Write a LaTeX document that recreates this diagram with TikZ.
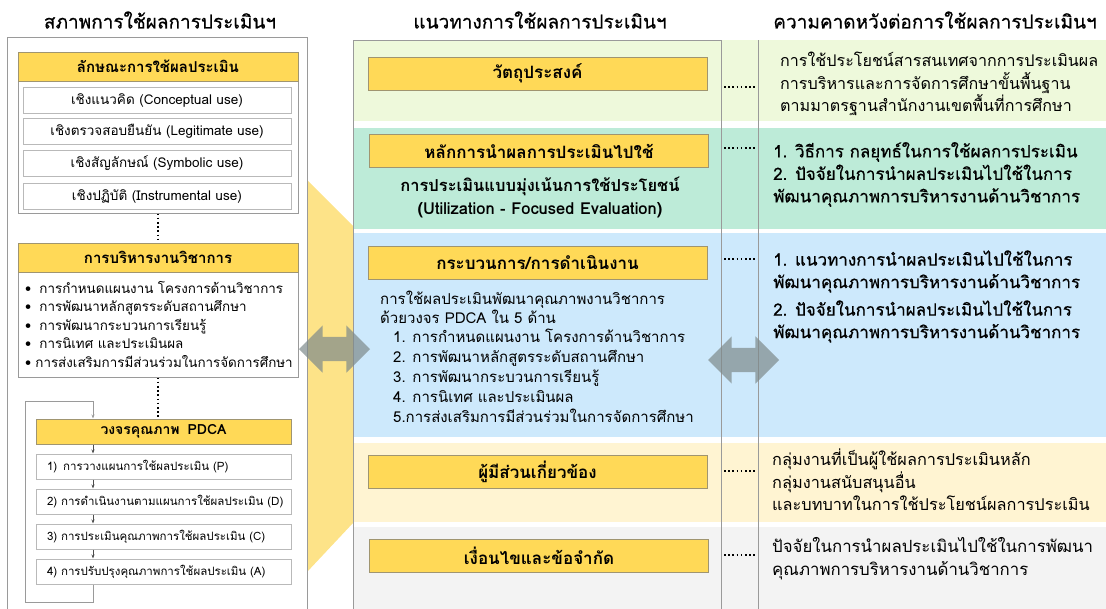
\documentclass[tikz,border=0pt]{standalone}
\usepackage{fontspec}
\setmainfont[Script=Thai]{Loma}
\newfontfamily\medfont[Script=Thai,FakeBold=0.6]{Loma}
\usetikzlibrary{arrows.meta,shapes.arrows}

\definecolor{hdyellow}{HTML}{FFD957}
\definecolor{hdline}{HTML}{A09570}
\definecolor{bigyellow}{HTML}{FDE388}
\definecolor{bandA}{HTML}{EEF9DB}
\definecolor{bandB}{HTML}{BDEBD8}
\definecolor{bandC}{HTML}{CDE9FC}
\definecolor{bandD}{HTML}{FFF4D2}
\definecolor{bandE}{HTML}{F3F3F3}
\definecolor{framegray}{HTML}{9A9A9A}
\definecolor{arrowgray}{HTML}{7E8A8B}

\tikzset{
  yhead/.style={draw=hdline, fill=hdyellow, line width=1pt, inner sep=0pt,
    font=\bfseries\fontsize{14}{16}\selectfont},
  midhead/.style={yhead, minimum width=339pt, minimum height=33pt,
    font=\bfseries\fontsize{17}{19}\selectfont},
  itembox/.style={draw=gray!55, fill=white, line width=1pt, inner sep=0pt,
    font=\fontsize{13.5}{15}\selectfont},
  pdcabox/.style={itembox, minimum width=255pt, minimum height=25pt, inner xsep=2.5pt,
    text width=250pt, align=left, font=\fontsize{11.5}{14}\selectfont},
  dots/.style={line width=1.6pt, dash pattern=on 1.6pt off 2.6pt},
  colhead/.style={font=\medfont\fontsize{19}{22}\selectfont},
  exptext/.style={anchor=west, align=left, inner sep=0pt,
    font=\fontsize{16.1}{22.5}\selectfont},
  dblarrow/.style={double arrow, fill=arrowgray, fill opacity=.7, inner xsep=0pt, inner ysep=12pt,
    minimum height=71pt, minimum width=47pt, double arrow head extend=11.5pt},
}

\begin{document}
\begin{tikzpicture}[x=1pt,y=-1pt]
\useasboundingbox (0,0) rectangle (1106,608);

% column titles
\node (tleft) [colhead] at (160,20) {สภาพการใช้ผลการประเมินฯ};
\node (tmid) [colhead] at (540,20) {แนวทางการใช้ผลการประเมินฯ};
\node (tright) [colhead] at (935,20) {ความคาดหวังต่อการใช้ผลการประเมินฯ};

% bands behind the middle and right columns
\fill [bandA] (353,40) rectangle (1106,121);
\fill [bandB] (353,128) rectangle (1106,229);
\fill [bandC] (353,233) rectangle (1106,437);
\fill [bandD] (353,443) rectangle (1106,522);
\fill [bandE] (353,527) rectangle (1106,620);
\fill [bigyellow] (307,180) -- (353,226) -- (353,523) -- (307,572) -- cycle;
\draw [framegray, line width=1pt] (7,620) |- (307,37) -- (307,620);
\draw [framegray, line width=1pt] (353,620) |- (721,40) -- (721,620);
\draw [framegray, line width=1pt] (758,40) -- (758,620);

% left column
\node (cbox) [draw=framegray, line width=1pt, minimum width=280pt, minimum height=132pt] at (158,147) {};
\node (chead) [yhead, minimum width=280pt, minimum height=29pt, font=\bfseries\fontsize{15}{17}\selectfont] at (158,66.5) {ลักษณะการใช้ผลประเมิน};
\node (c1) [itembox, minimum width=268pt, minimum height=26pt] at (157,100) {เชิงแนวคิด (Conceptual use)};
\node (c2) [itembox, minimum width=268pt, minimum height=26pt] at (157,131.5) {เชิงตรวจสอบยืนยัน (Legitimate use)};
\node (c3) [itembox, minimum width=268pt, minimum height=26pt] at (157,163.5) {เชิงสัญลักษณ์ (Symbolic use)};
\node (c4) [itembox, minimum width=268pt, minimum height=26pt] at (157,196) {เชิงปฏิบัติ (Instrumental use)};

\node (abody) [draw=framegray, fill=white, line width=1pt, minimum width=280pt, minimum height=105pt] at (158,324.5) {};
\node (ahead) [yhead, minimum width=280pt, minimum height=29pt, font=\bfseries\fontsize{15}{17}\selectfont] at (158,257.5) {การบริหารงานวิชาการ};
\node (alist) [anchor=west, align=left, inner sep=0pt, font=\fontsize{13.4}{18.5}\selectfont] at (25,324)
  {•\hspace{8pt}การกำหนดแผนงาน โครงการด้านวิชาการ\\
   •\hspace{8pt}การพัฒนาหลักสูตรระดับสถานศึกษา\\
   •\hspace{8pt}การพัฒนากระบวนการเรียนรู้\\
   •\hspace{8pt}การนิเทศ และประเมินผล\\
   •\hspace{4pt}การส่งเสริมการมีส่วนร่วมในการจัดการศึกษา};

\node (phead) [yhead, minimum width=255pt, minimum height=25pt] at (163.5,431.5) {วงจรคุณภาพ\hspace{8pt}PDCA};
\node (p1) [pdcabox] at (163.5,466.5) {\hspace*{8.5pt}1)\hspace{6pt}การวางแผนการใช้ผลประเมิน (P)};
\node (p2) [pdcabox] at (163.5,501.5) {\hspace*{8.5pt}2) การดำเนินงานตามแผนการใช้ผลประเมิน (D)};
\node (p3) [pdcabox] at (163.5,536.5) {\hspace*{8.5pt}3) การประเมินคุณภาพการใช้ผลประเมิน (C)};
\node (p4) [pdcabox] at (163.5,571.5) {\hspace*{8.5pt}4) การปรับปรุงคุณภาพการใช้ผลประเมิน (A)};

\draw [dots] (cbox.south) -- (ahead.north);
\draw [dots] (abody.south) -- (abody.south |- phead.north);

% PDCA cycle
\coordinate (px) at (93,0);
\coordinate (lpb) at (25,602);
\coordinate (lpt) at (25,401);
\begin{scope}[draw=black!70, line width=.8pt, -{Stealth[length=4pt,width=3pt]}]
\draw (phead.south -| px) -- (p1.north -| px);
\draw (p1.south -| px) -- (p2.north -| px);
\draw (p2.south -| px) -- (p3.north -| px);
\draw (p3.south -| px) -- (p4.north -| px);
\end{scope}
\draw [framegray, line width=1pt, -{Stealth[length=4pt,width=3pt]}] (p4.south -| px) |- (lpb) -- (lpt) -| (phead.north -| px);

% middle column
\node (obj) [midhead] at (537.5,73.5) {วัตถุประสงค์};
\node (prin) [midhead] at (539,151) {หลักการนำผลการประเมินไปใช้};
\node (ufe) [align=center, inner sep=0pt, font=\bfseries\fontsize{16.5}{23}\selectfont] at (540,197)
  {การประเมินแบบมุ่งเน้นการใช้ประโยชน์\\(Utilization - Focused Evaluation)};
\node (proc) [midhead] at (537.5,263) {กระบวนการ/การดำเนินงาน};
\node (pintro) [anchor=north west, align=left, inner sep=0pt, font=\fontsize{15}{19}\selectfont] at (380,291)
  {การใช้ผลประเมินพัฒนาคุณภาพงานวิชาการ\\ด้วยวงจร PDCA ใน 5 ด้าน};
\node (plist) [anchor=north west, align=left, inner sep=0pt, font=\fontsize{15}{20}\selectfont] at (393,329)
  {1. การกำหนดแผนงาน โครงการด้านวิชาการ\\
   2. การพัฒนาหลักสูตรระดับสถานศึกษา\\
   3. การพัฒนากระบวนการเรียนรู้\\
   4. การนิเทศ และประเมินผล\\
   5.การส่งเสริมการมีส่วนร่วมในการจัดการศึกษา};
\node (stake) [midhead] at (537.5,472) {ผู้มีส่วนเกี่ยวข้อง};
\node (cond) [midhead] at (539,556) {เงื่อนไขและข้อจำกัด};

% right column
\node (e1) [exptext] at (780,84)
  {การใช้ประโยชน์สารสนเทศจากการประเมินผล\\การบริหารและการจัดการศึกษาขั้นพื้นฐาน\\ตามมาตรฐานสำนักงานเขตพื้นที่การศึกษา};
\node (e2) [exptext, font=\medfont\fontsize{17}{22.5}\selectfont] at (773,174.5)
  {1. วิธีการ กลยุทธ์ในการใช้ผลการประเมิน\\2. ปัจจัยในการนำผลประเมินไปใช้ในการ\\พัฒนาคุณภาพการบริหารงานด้านวิชาการ};
\node (e3) [exptext, font=\medfont\fontsize{17}{22.5}\selectfont] at (773,271.5)
  {1. แนวทางการนำผลประเมินไปใช้ในการ\\พัฒนาคุณภาพการบริหารงานด้านวิชาการ};
\node (e3b) [exptext, font=\medfont\fontsize{17}{22.5}\selectfont] at (773,321.5)
  {2. ปัจจัยในการนำผลประเมินไปใช้ในการ\\พัฒนาคุณภาพการบริหารงานด้านวิชาการ};
\node (e4) [exptext, font=\fontsize{16.3}{22.5}\selectfont] at (772,480)
  {กลุ่มงานที่เป็นผู้ใช้ผลการประเมินหลัก\\กลุ่มงานสนับสนุนอื่น\\และบทบาทในการใช้ประโยชน์ผลการประเมิน};
\node (e5) [exptext, font=\fontsize{16.8}{22.5}\selectfont] at (772,558.5)
  {ปัจจัยในการนำผลประเมินไปใช้ในการพัฒนา\\คุณภาพการบริหารงานด้านวิชาการ};

% dotted links
\foreach \n/\y in {1/87,2/148,3/259,4/471,5/555}{
  \coordinate (dl\n) at (724,\y);
  \coordinate (dr\n) at (757,\y);
  \draw [dots] (dl\n) -- (dr\n);
}

% two-way arrows
\node (lar) [dblarrow] at (334.5,349) {};
\node (rar) [dblarrow] at (743.5,360) {};
\end{tikzpicture}
\end{document}
